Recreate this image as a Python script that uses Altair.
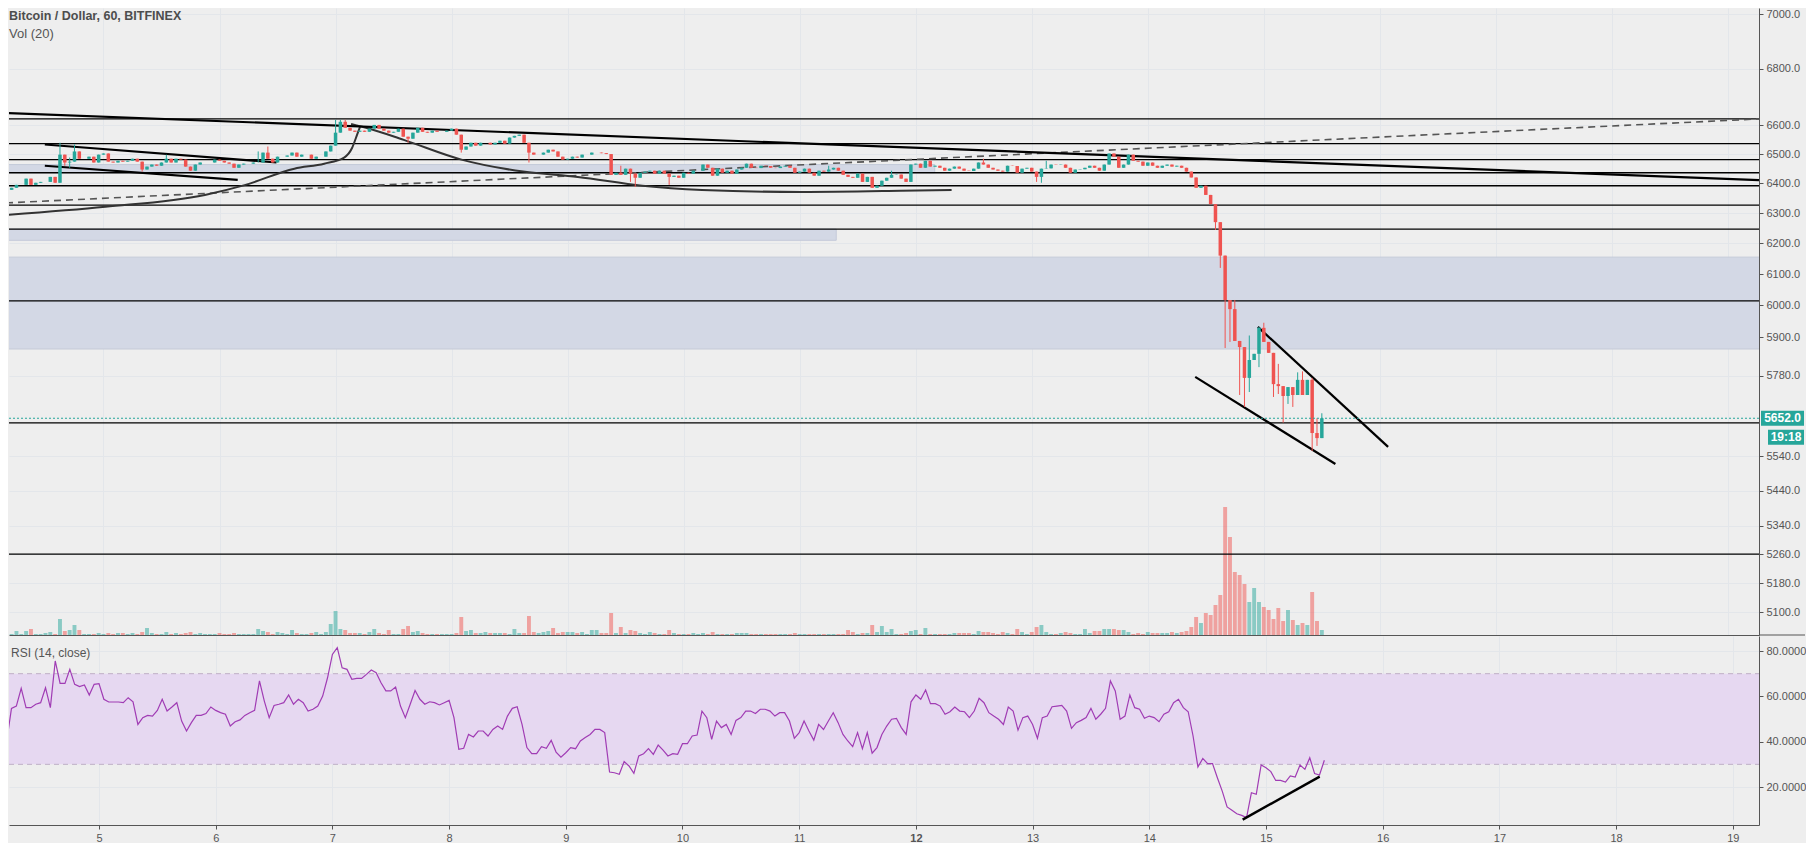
import altair as alt
import pandas as pd

# ---------------- data (hourly candles, Oct 4 04:00 -> Oct 15 12:00) ----------------
first_open = 6388
closes = [
    6378, 6385, 6395, 6395, 6416, 6395, 6402, 6405, 6405, 6422,
    6402, 6498, 6471, 6474, 6509, 6484, 6484, 6491, 6471, 6498,
    6502, 6474, 6471, 6477, 6474, 6477, 6484, 6474, 6447, 6457,
    6464, 6460, 6471, 6484, 6471, 6484, 6481, 6457, 6443, 6464,
    6471, 6471, 6471, 6481, 6477, 6471, 6467, 6453, 6464, 6467,
    6467, 6471, 6471, 6505, 6484, 6471, 6491, 6491, 6495, 6505,
    6491, 6498, 6498, 6484, 6491, 6491, 6509, 6529, 6574, 6612,
    6591, 6581, 6577, 6581, 6577, 6588, 6601, 6588, 6581, 6574,
    6577, 6588, 6560, 6553, 6574, 6591, 6577, 6574, 6581, 6577,
    6577, 6581, 6588, 6567, 6515, 6526, 6539, 6529, 6539, 6539,
    6533, 6539, 6546, 6536, 6557, 6563, 6567, 6539, 6505, 6498,
    6498, 6505, 6515, 6509, 6491, 6481, 6484, 6491, 6488, 6498,
    6498, 6505, 6505, 6503, 6500, 6429, 6436, 6429, 6450, 6433,
    6419, 6436, 6440, 6443, 6433, 6443, 6433, 6422, 6426, 6419,
    6436, 6433, 6443, 6443, 6464, 6453, 6426, 6450, 6436, 6443,
    6433, 6447, 6453, 6467, 6453, 6452, 6460, 6459, 6453, 6452,
    6457, 6460, 6453, 6436, 6440, 6450, 6436, 6426, 6443, 6440,
    6447, 6453, 6443, 6429, 6422, 6419, 6433, 6405, 6422, 6385,
    6392, 6409, 6419, 6429, 6430, 6416, 6405, 6464, 6467, 6453,
    6477, 6457, 6460, 6453, 6443, 6450, 6457, 6450, 6443, 6442,
    6450, 6471, 6464, 6453, 6447, 6443, 6440, 6460, 6459, 6436,
    6450, 6453, 6440, 6422, 6450, 6451, 6464, 6463, 6464, 6453,
    6436, 6447, 6448, 6453, 6460, 6453, 6443, 6464, 6502, 6491,
    6453, 6464, 6498, 6477, 6474, 6460, 6471, 6460, 6453, 6460,
    6464, 6457, 6460, 6453, 6440, 6420, 6385, 6392, 6361, 6330,
    6270, 6160, 6017, 5988, 5888, 5869, 5774, 5829, 5848, 5929,
    5885, 5851, 5755, 5749, 5719, 5746, 5722, 5768, 5722, 5768,
    5608, 5593, 5652,
]
wick_high = {11: 6539, 13: 6488, 14: 6533, 33: 6498, 52: 6509, 54: 6526, 68: 6619,
             69: 6619, 70: 6619, 127: 6460, 170: 6460, 183: 6443, 202: 6484, 215: 6477,
             250: 6327, 254: 6017, 257: 5905, 259: 5932, 260: 5945, 263: 5817, 267: 5791,
             268: 5794, 270: 5774, 271: 5652, 272: 5667}
wick_low = {12: 6460, 13: 6453, 28: 6440, 83: 6539, 94: 6505, 108: 6471, 129: 6405,
            130: 6388, 137: 6395, 213: 6405, 214: 6402, 250: 6244, 251: 6120, 252: 5866,
            253: 5885, 255: 5722, 256: 5686, 257: 5731, 259: 5807, 262: 5716, 263: 5725,
            264: 5639, 265: 5695, 266: 5686, 270: 5555, 271: 5570}
volumes = [
    39, 30, 120, 30, 120, 180, 30, 30, 60, 90,
    30, 480, 120, 150, 300, 150, 30, 30, 30, 60,
    30, 60, 30, 60, 60, 30, 60, 30, 90, 210,
    60, 30, 30, 90, 30, 60, 30, 60, 90, 30,
    60, 30, 30, 30, 60, 30, 30, 60, 30, 30,
    30, 30, 180, 120, 90, 30, 90, 60, 30, 150,
    60, 30, 30, 60, 90, 30, 90, 330, 720, 180,
    150, 60, 60, 60, 30, 90, 180, 60, 30, 150,
    30, 30, 180, 270, 90, 120, 60, 30, 30, 30,
    30, 30, 30, 60, 540, 120, 150, 60, 60, 90,
    60, 60, 60, 60, 30, 180, 60, 60, 570, 90,
    60, 90, 120, 210, 60, 90, 90, 90, 60, 90,
    30, 150, 150, 60, 60, 660, 60, 240, 60, 150,
    120, 60, 30, 90, 60, 30, 30, 150, 60, 30,
    30, 30, 60, 30, 60, 30, 90, 30, 30, 30,
    30, 60, 60, 60, 30, 30, 30, 30, 30, 30,
    30, 30, 30, 60, 30, 30, 30, 30, 30, 30,
    30, 30, 30, 30, 150, 90, 30, 60, 60, 300,
    90, 270, 90, 180, 30, 30, 60, 120, 150, 30,
    210, 30, 30, 30, 30, 30, 60, 60, 60, 60,
    30, 120, 90, 90, 60, 30, 90, 60, 30, 180,
    90, 30, 90, 240, 300, 90, 30, 30, 60, 90,
    60, 30, 30, 180, 60, 120, 120, 180, 180, 180,
    150, 150, 90, 30, 60, 30, 90, 60, 60, 60,
    60, 90, 60, 90, 120, 240, 540, 360, 660, 600,
    900, 1200, 3840, 2940, 1890, 1800, 1530, 990, 1410, 990,
    840, 750, 480, 810, 420, 750, 450, 300, 360, 300,
    1290, 420, 150,
]
rsi_vals = [
    39.9, 39.9, 54.7, 55.7, 63.5, 55.0, 55.0, 56.5, 57.2, 63.8,
    55.0, 75.6, 65.7, 65.7, 71.9, 65.3, 64.3, 65.0, 60.6, 65.3,
    65.6, 58.7, 57.5, 57.5, 57.5, 57.2, 59.4, 57.6, 47.6, 50.6,
    51.6, 51.3, 53.8, 58.7, 53.5, 55.3, 57.2, 49.1, 44.7, 48.4,
    51.6, 51.6, 52.4, 55.3, 53.8, 52.8, 52.1, 46.9, 48.8, 49.6,
    51.6, 52.8, 53.8, 66.8, 57.9, 50.6, 56.0, 56.5, 57.2, 60.6,
    56.5, 58.7, 57.2, 53.5, 54.3, 55.7, 60.1, 68.2, 78.5, 81.5,
    72.6, 71.9, 67.5, 67.9, 67.9, 69.7, 71.6, 70.4, 66.0, 62.4,
    62.4, 64.1, 55.7, 50.6, 56.5, 62.6, 58.7, 56.5, 57.6, 57.2,
    56.2, 57.2, 58.2, 50.6, 36.6, 37.1, 43.2, 42.1, 44.7, 44.7,
    42.5, 45.4, 46.9, 45.4, 51.3, 54.7, 55.4, 47.6, 37.4, 34.7,
    34.7, 37.8, 37.1, 40.6, 35.4, 33.2, 35.1, 37.4, 36.9, 40.3,
    41.8, 43.2, 45.4, 45.4, 44.0, 26.6, 26.3, 25.6, 31.2, 29.3,
    26.0, 33.7, 34.7, 36.9, 34.4, 38.5, 36.3, 33.7, 34.7, 34.4,
    39.1, 39.1, 42.5, 42.9, 53.5, 50.6, 41.0, 49.1, 46.2, 47.6,
    43.2, 49.4, 50.6, 53.5, 53.5, 52.4, 54.3, 54.3, 53.5, 51.3,
    52.8, 52.8, 49.1, 41.5, 44.0, 49.1, 44.7, 40.7, 47.6, 45.4,
    49.1, 52.8, 48.4, 43.2, 40.3, 37.8, 44.0, 36.9, 44.0, 34.9,
    37.4, 43.2, 46.9, 49.9, 50.3, 46.2,
    43.2, 57.6, 60.6, 58.7, 62.8, 56.8, 56.8, 55.7, 52.1, 53.2,
    55.3, 53.5, 53.2, 50.6, 53.5, 59.1, 57.2, 52.8, 51.3, 49.9,
    47.6, 55.3, 53.5, 45.1, 50.6, 51.3, 47.6, 41.5, 50.6, 51.3,
    55.4, 55.7, 56.0, 53.5, 45.9, 48.4, 49.4, 50.6, 54.7, 49.9,
    52.1, 54.7, 66.8, 62.4, 49.9, 51.3, 60.6, 55.0, 54.3, 50.3,
    51.3, 50.6, 48.8, 52.1, 53.2, 57.2, 58.7, 55.0, 53.2, 42.5,
    28.8, 32.6, 30.3, 30.3, 24.1, 18.2, 11.2, 9.7, 8.2, 7.5,
    6.5, 17.5, 16.8, 29.7, 28.5, 26.8, 22.9, 22.9, 22.2, 24.9,
    24.4, 29.7, 27.8, 32.9, 25.9, 25.3, 31.8,
]

days = list(range(5, 20))
price_ticks = [7000, 6800, 6600, 6500, 6400, 6300, 6200, 6100, 6000, 5900, 5780,
               5540, 5440, 5340, 5260, 5180, 5100]
rsi_ticks = [20, 40, 60, 80]
levels = [6622, 6536, 6481, 6436, 6392, 6327, 6247, 6014, 5638, 5260]
zone_t0 = [4.0, 4.0, 4.0]
zone_t1 = [19.6, 12.164, 11.315]
zone_lo = [5863, 6436, 6210]
zone_hi = [6155, 6464, 6247]

# drawn trend lines / curves: (day, price)
line_main_t = [4.1602, 19.2673]; line_main_p = [6643, 6411]
line_ch1_t = [4.4944, 6.4910];   line_ch1_p = [6533, 6471]
line_ch2_t = [4.4944, 6.1568];   line_ch2_p = [6460, 6412]
line_w1_t = [14.9486, 16.0711];  line_w1_p = [5932, 5567]
line_w2_t = [14.4087, 15.6170];  line_w2_p = [5777, 5517]
dash_t = [4.1602, 19.2673];      dash_p = [6334, 6622]
curve1_t = [4.1602, 5.0171, 5.8740, 6.2168, 6.6452, 6.9023, 7.0737, 7.1422, 7.1851, 7.2108]
curve1_p = [6294, 6321, 6361, 6394, 6450, 6467, 6488, 6521, 6566, 6594]
curve2_t = [7.1337, 7.2622, 7.5878, 8.0848, 8.6161, 9.0874, 9.6444, 10.1585, 11.0154, 11.8723, 12.3093]
curve2_p = [6604, 6591, 6549, 6481, 6440, 6422, 6392, 6378, 6371, 6375, 6378]
rsi_line_t = [14.80, 15.46]; rsi_line_r = [5.6, 24.6]

# ---------------- build tables ----------------
UP, DOWN, TEAL = "#26a69a", "#ef5350", "#26a69a"
n = len(closes)
rows = []
prev = first_open
for k in range(n):
    o, c = prev, closes[k]
    hi = max(o, c, wick_high.get(k, 0))
    lo = min(o, c, wick_low.get(k, 99999))
    rows.append(dict(t=4 + (4 + k) / 24, o=o, c=c, h=hi, l=lo,
                     bl=min(o, c), bh=max(o, c), vol=volumes[k], rsi=rsi_vals[k],
                     col=UP if c >= o else DOWN))
    prev = c
df = pd.DataFrame(rows)

zdf = pd.DataFrame(dict(t0=zone_t0, t1=zone_t1, p0=zone_lo, p1=zone_hi))
ldf = pd.DataFrame(dict(p=levels))


def mk(name, ts, ps):
    return [dict(id=name, o=i, t=a, p=b) for i, (a, b) in enumerate(zip(ts, ps))]


solid_df = pd.DataFrame(mk("a", line_main_t, line_main_p) + mk("b", line_ch1_t, line_ch1_p)
                        + mk("c", line_ch2_t, line_ch2_p) + mk("d", line_w1_t, line_w1_p)
                        + mk("e", line_w2_t, line_w2_p))
curve_df = pd.DataFrame(mk("f", curve1_t, curve1_p) + mk("g", curve2_t, curve2_p))
dash_df = pd.DataFrame(mk("h", dash_t, dash_p))
rtl_df = pd.DataFrame(dict(t=rsi_line_t, r=rsi_line_r))

# ---------------- layout constants ----------------
W, H1, H2 = 1750, 627, 189
PX_PER_DAY = 116.70
XDOM = [4.2288, 4.2288 + W / PX_PER_DAY]
PDOM = [5039.6, 7022.3]
RDOM = [86.62 - H2 / 2.2667, 86.62]
FONT = "Liberation Sans"
AX = "#555555"
GRID = "#e3e6ea"
LBL = "#555555"

xs = alt.Scale(domain=XDOM, nice=False, zero=False)
ps = alt.Scale(type="log", domain=PDOM, nice=False)
rs = alt.Scale(domain=RDOM, nice=False, zero=False)

xa_top = alt.Axis(values=days, grid=True, gridColor=GRID, labels=False, ticks=False,
                  domain=True, domainColor=AX, title=None)
pa = alt.Axis(orient="right", values=price_ticks, format=".1f", grid=True, gridColor=GRID,
              labelColor=LBL, labelFont=FONT, labelFontSize=11, tickColor=AX, tickSize=4,
              labelPadding=3, domainColor=AX, title=None)

X = alt.X("t:Q", scale=xs, axis=xa_top)
col = alt.Color("col:N", scale=None)

zones = alt.Chart(zdf).mark_rect(fill="#d3d8e5", stroke="#c4cad9", strokeWidth=1, clip=True).encode(
    x=alt.X("t0:Q", scale=xs, axis=xa_top), x2="t1:Q",
    y=alt.Y("p0:Q", scale=ps, axis=pa), y2="p1:Q")
lev = alt.Chart(ldf).mark_rule(color="#000000", strokeWidth=1.3).encode(
    y=alt.Y("p:Q", scale=ps, axis=pa), x=alt.value(0), x2=alt.value(W))
dashl = alt.Chart(dash_df).mark_line(color="#555555", strokeDash=[7, 5], strokeWidth=1.6, clip=True).encode(
    x=X, y=alt.Y("p:Q", scale=ps, axis=pa), detail="id:N", order="o:Q")
curves = alt.Chart(curve_df).mark_line(color="#333333", strokeWidth=2, clip=True, interpolate="monotone").encode(
    x=X, y=alt.Y("p:Q", scale=ps, axis=pa), detail="id:N", order="o:Q")
solids = alt.Chart(solid_df).mark_line(color="#000000", strokeWidth=2.2, clip=True).encode(
    x=X, y=alt.Y("p:Q", scale=ps, axis=pa), detail="id:N", order="o:Q")
wicks = alt.Chart(df).mark_rule(strokeWidth=1, clip=True).encode(
    x=X, y=alt.Y("l:Q", scale=ps, axis=pa), y2="h:Q", color=col)
bodies = alt.Chart(df).mark_bar(size=3.5, clip=True).encode(
    x=X, y=alt.Y("bl:Q", scale=ps, axis=pa), y2="bh:Q", color=col)
last_df = pd.DataFrame(dict(p=[closes[-1]], lab=["5652.0"], cd=["19:18"]))
pline = alt.Chart(last_df).mark_rule(color=TEAL, strokeDash=[2, 2], strokeWidth=1).encode(
    y=alt.Y("p:Q", scale=ps, axis=pa), x=alt.value(0), x2=alt.value(W))
box1 = alt.Chart(last_df).mark_point(shape="M-1,-0.35L1,-0.35L1,0.35L-1,0.35Z", size=1849,
                                     filled=True, color=TEAL, opacity=1, strokeWidth=0).encode(
    x=alt.value(W + 23.5), y=alt.Y("p:Q", scale=ps, axis=pa))
txt1 = alt.Chart(last_df).mark_text(color="white", fontWeight="bold", fontSize=12, font=FONT,
                                    align="center", baseline="middle").encode(
    x=alt.value(W + 23.5), y=alt.Y("p:Q", scale=ps, axis=pa), text="lab:N")
box2 = alt.Chart(last_df).mark_point(shape="M-1,-0.42L1,-0.42L1,0.42L-1,0.42Z", size=1296,
                                     filled=True, color=TEAL, opacity=1, strokeWidth=0, yOffset=19).encode(
    x=alt.value(W + 27), y=alt.Y("p:Q", scale=ps, axis=pa))
txt2 = alt.Chart(last_df).mark_text(color="white", fontWeight="bold", fontSize=12, font=FONT,
                                    align="center", baseline="middle", dy=19).encode(
    x=alt.value(W + 27), y=alt.Y("p:Q", scale=ps, axis=pa), text="cd:N")

title_df = pd.DataFrame(dict(s=["Bitcoin / Dollar, 60, BITFINEX"]))
vol_lab_df = pd.DataFrame(dict(s=["Vol (20)"]))
ttl = alt.Chart(title_df).mark_text(align="left", baseline="middle", font=FONT, fontSize=12.5,
                                    fontWeight="bold", color="#4d4d4d").encode(
    x=alt.value(0), y=alt.value(8), text="s:N")
vlab = alt.Chart(vol_lab_df).mark_text(align="left", baseline="middle", font=FONT, fontSize=13,
                                       color="#555555").encode(
    x=alt.value(0), y=alt.value(26), text="s:N")
sep = alt.Chart(vol_lab_df).mark_rule(color=AX, strokeWidth=1).encode(
    x=alt.value(W), x2=alt.value(W + 46), y=alt.value(H1))

price_layers = alt.layer(zones, lev, dashl, curves, solids, wicks, bodies, pline,
                         box1, txt1, box2, txt2, ttl, vlab, sep)
vol_chart = alt.Chart(df).mark_bar(size=3.9, opacity=0.5, clip=True).encode(
    x=X, y=alt.Y("vol:Q", scale=alt.Scale(domain=[0, H1 * 30], nice=False), axis=None), color=col)

top = alt.layer(vol_chart, price_layers).resolve_scale(y="independent").properties(width=W, height=H1)

# ---------------- RSI panel ----------------
xa_bot = alt.Axis(values=days, format="d", grid=True, gridColor=GRID, labelColor=LBL,
                  labelFont=FONT, labelFontSize=11, tickColor=AX, tickSize=4, labelPadding=3,
                  domainColor=AX, title=None,
                  labelFontWeight=alt.expr("datum.value == 12 ? 'bold' : 'normal'"))
ra = alt.Axis(orient="right", values=rsi_ticks, format=".4f", grid=True, gridColor=GRID,
              labelColor=LBL, labelFont=FONT, labelFontSize=11, tickColor=AX, tickSize=4,
              labelPadding=3, domainColor=AX, title=None)
XR = alt.X("t:Q", scale=xs, axis=xa_bot)

band_df = pd.DataFrame(dict(lo=[30], hi=[70]))
band = alt.Chart(band_df).mark_rect(fill="#e6d8f1").encode(
    x=alt.value(0), x2=alt.value(W), y=alt.Y("lo:Q", scale=rs, axis=ra), y2="hi:Q")
bl_df = pd.DataFrame(dict(v=[30, 70]))
blines = alt.Chart(bl_df).mark_rule(color="#bfb0c6", strokeDash=[5, 4], strokeWidth=1).encode(
    y=alt.Y("v:Q", scale=rs, axis=ra), x=alt.value(0), x2=alt.value(W))
rline = alt.Chart(df).mark_line(color="#a03cb4", strokeWidth=1.2, clip=True).encode(
    x=XR, y=alt.Y("rsi:Q", scale=rs, axis=ra))
rtl = alt.Chart(rtl_df).mark_line(color="#000000", strokeWidth=2.4).encode(
    x=XR, y=alt.Y("r:Q", scale=rs, axis=ra))
rlab = alt.Chart(pd.DataFrame(dict(s=["RSI (14, close)"]))).mark_text(
    align="left", baseline="middle", font=FONT, fontSize=12, color="#555555").encode(
    x=alt.value(2), y=alt.value(17), text="s:N")

bottom = alt.layer(band, blines, rline, rtl, rlab).properties(width=W, height=H2)

chart = alt.vconcat(top, bottom, spacing=0).properties(padding=0).configure(
    background="#eeeeee").configure_view(stroke=None)

chart.save("out.html", embed_options={"renderer": "svg", "actions": False})
